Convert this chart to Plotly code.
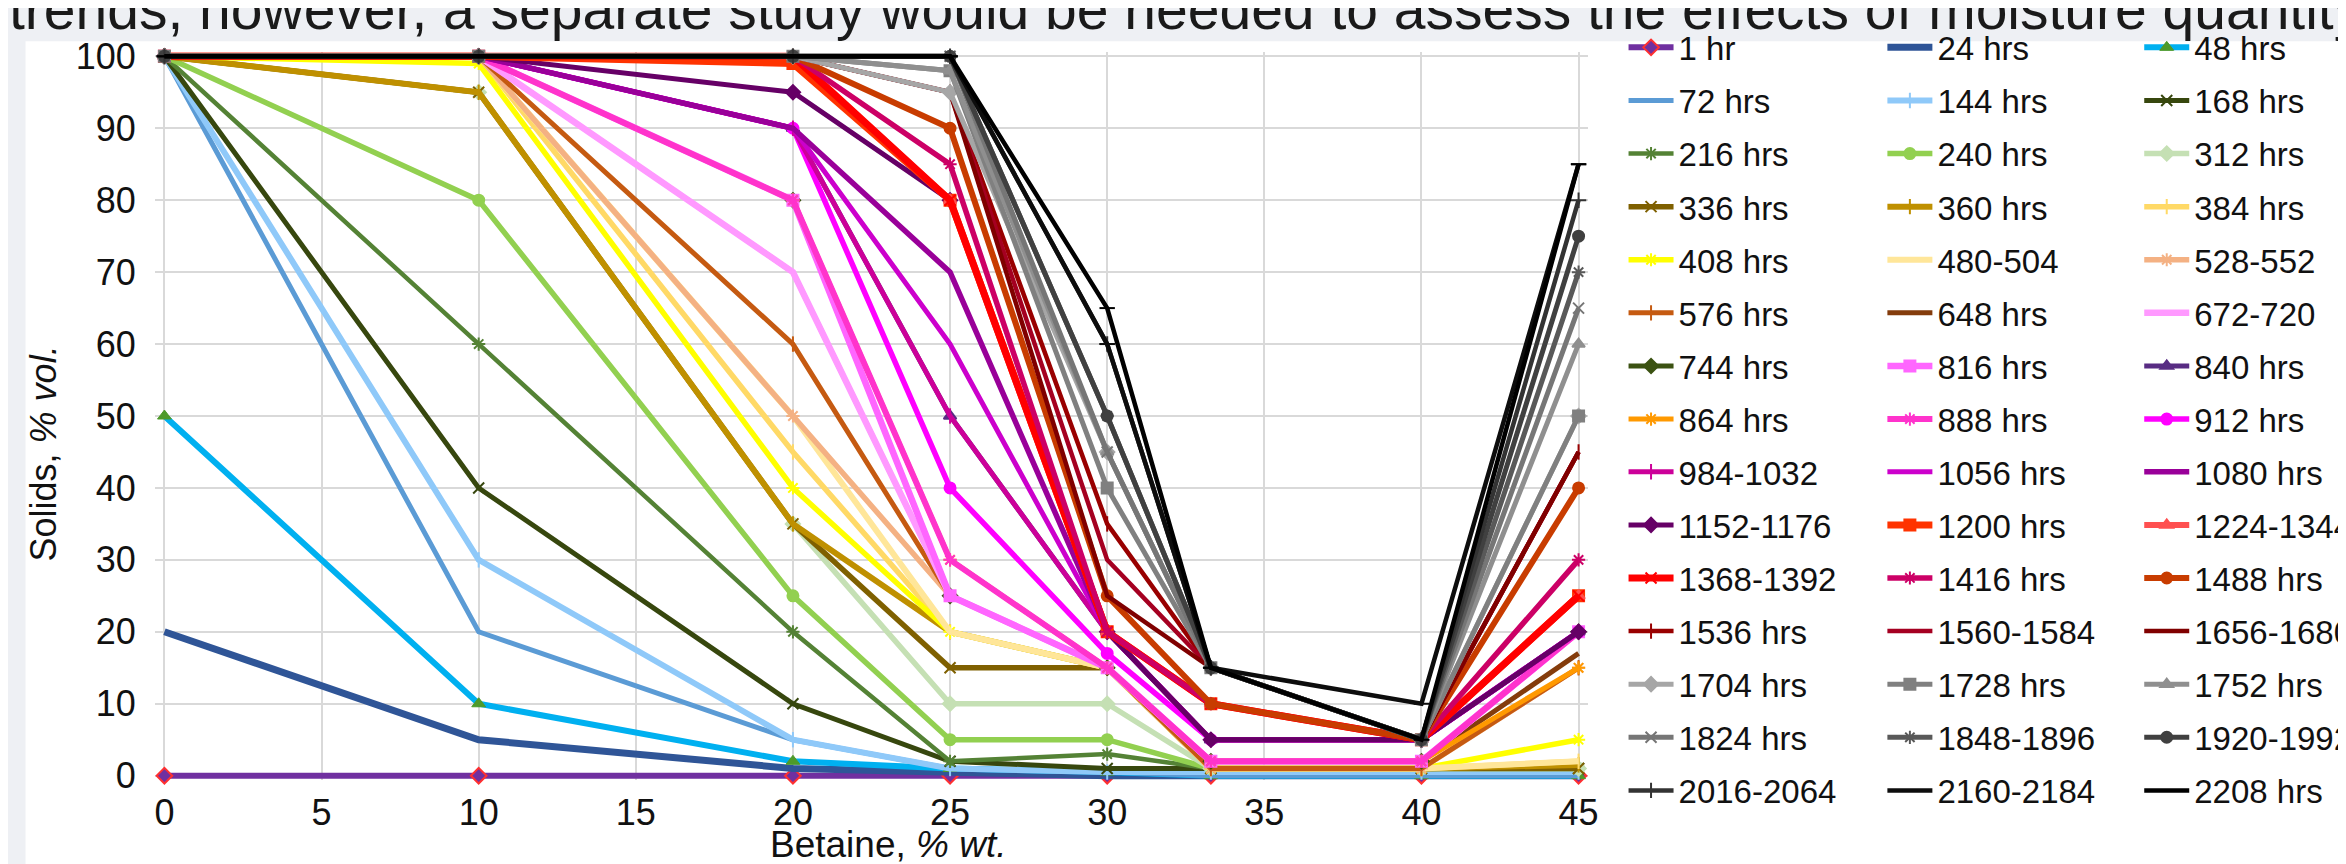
import plotly.graph_objects as go

# ---------------- data ----------------
betaine = [0, 10, 20, 25, 30, 33.3, 40, 45]
x_ticks = [0, 5, 10, 15, 20, 25, 30, 35, 40, 45]
y_ticks = [0, 10, 20, 30, 40, 50, 60, 70, 80, 90, 100]

names = ["1 hr", "24 hrs", "48 hrs", "72 hrs", "144 hrs", "168 hrs", "216 hrs", "240 hrs",
         "312 hrs", "336 hrs", "360 hrs", "384 hrs", "408 hrs", "480-504", "528-552", "576 hrs",
         "648 hrs", "672-720", "744 hrs", "816 hrs", "840 hrs", "864 hrs", "888 hrs", "912 hrs",
         "984-1032", "1056 hrs", "1080 hrs", "1152-1176", "1200 hrs", "1224-1344", "1368-1392",
         "1416 hrs", "1488 hrs", "1536 hrs", "1560-1584", "1656-1680", "1704 hrs", "1728 hrs",
         "1752 hrs", "1824 hrs", "1848-1896", "1920-1992", "2016-2064", "2160-2184", "2208 hrs"]

h1 = [0, 0, 0, 0, 0, 0, 0, 0]
h24 = [20, 5, 1, 0.5, 0, 0, 0, 0]
h48 = [50, 10, 2, 1, 0.5, 0, 0, 0]
h72 = [100, 20, 5, 1, 0.5, 0, 0, 0]
h144 = [100, 30, 5, 1, 0.5, 0.5, 0.5, 0.5]
h168 = [100, 40, 10, 2, 1, 1, 1, 1]
h216 = [100, 60, 20, 2, 3, 1, 1, 1]
h240 = [100, 80, 25, 5, 5, 1, 1, 1]
h312 = [100, 95, 35, 10, 10, 1, 1, 1]
h336 = [100, 95, 35, 15, 15, 1, 1, 1]
h360 = [100, 95, 35, 20, 15, 1, 1, 1.5]
h384 = [100, 100, 45, 20, 15, 1, 1, 2]
h408 = [100, 99, 40, 20, 15, 1, 1, 5]
h480 = [100, 100, 50, 20, 15, 1, 1, 2]
h528 = [100, 100, 50, 25, 15, 1, 1, 15]
h576 = [100, 100, 60, 25, 15, 1, 1, 15]
h648 = [100, 100, 70, 25, 15, 2, 2, 17]
h672 = [100, 100, 70, 25, 15, 2, 2, 20]
h744 = [100, 100, 80, 25, 15, 2, 2, 20]
h816 = [100, 100, 80, 25, 15, 2, 2, 20]
h840 = [100, 100, 90, 50, 20, 5, 5, 20]
h864 = [100, 100, 80, 30, 15, 2, 2, 15]
h888 = [100, 100, 80, 30, 15, 2, 2, 20]
h912 = [100, 100, 90, 40, 17, 5, 5, 20]
h984 = [100, 100, 90, 50, 20, 5, 5, 20]
h1056 = [100, 100, 90, 60, 20, 5, 5, 20]
h1080 = [100, 100, 90, 70, 20, 5, 5, 20]
h1152 = [100, 100, 95, 80, 20, 5, 5, 20]
h1200 = [100, 100, 99, 80, 20, 10, 5, 25]
h1224 = [100, 100, 100, 80, 20, 10, 5, 25]
h1368 = [100, 100, 100, 80, 20, 10, 5, 25]
h1416 = [100, 100, 100, 85, 20, 10, 5, 30]
h1488 = [100, 100, 100, 90, 25, 10, 5, 40]
h1536 = [100, 100, 100, 95, 35, 15, 5, 45]
h1560 = [100, 100, 100, 95, 30, 15, 5, 45]
h1656 = [100, 100, 100, 95, 25, 15, 5, 45]
h1704 = [100, 100, 100, 95, 45, 15, 5, 50]
h1728 = [100, 100, 100, 98, 40, 15, 5, 50]
h1752 = [100, 100, 100, 98, 45, 15, 5, 60]
h1824 = [100, 100, 100, 100, 45, 15, 5, 65]
h1848 = [100, 100, 100, 100, 50, 15, 5, 70]
h1920 = [100, 100, 100, 100, 50, 15, 5, 75]
h2016 = [100, 100, 100, 100, 60, 15, 5, 80]
h2160 = [100, 100, 100, 100, 60, 15, 10, 85]
h2208 = [100, 100, 100, 100, 65, 15, 5, 85]

values = [h1, h24, h48, h72, h144, h168, h216, h240, h312, h336, h360, h384, h408, h480,
          h528, h576, h648, h672, h744, h816, h840, h864, h888, h912, h984, h1056, h1080,
          h1152, h1200, h1224, h1368, h1416, h1488, h1536, h1560, h1656, h1704, h1728,
          h1752, h1824, h1848, h1920, h2016, h2160, h2208]

top_text = "trends, however, a separate study would be needed to assess the effects of moisture quantity"

# ---------------- styles ----------------
colors = ["#7030A0", "#2F5597", "#00B0F0", "#5B9BD5", "#8FC9F9", "#37470E", "#548235", "#92D050",
          "#C5E0B4", "#7F6000", "#BF9000", "#FFD966", "#FFFF00", "#FFE699", "#F4B183", "#C55A11",
          "#843C0C", "#FF99FF", "#3B5212", "#FF66FF", "#582C83", "#FF9900", "#FF33CC", "#FF00FF",
          "#CC0099", "#CC00CC", "#990099", "#660066", "#FF3300", "#FF5050", "#FF0000",
          "#CC0066", "#C83C00", "#990000", "#A50021", "#800000", "#A6A6A6", "#808080",
          "#8F8F8F", "#767676", "#595959", "#404040", "#333333", "#0D0D0D", "#000000"]
symbols = ["diamond", None, "triangle-up", None, "line-ns", "x-thin", "asterisk", "circle",
           "diamond", "x-thin", "line-ns", "line-ns", "asterisk", None, "asterisk", "line-ns",
           None, None, "diamond", "square", "triangle-up", "asterisk", "asterisk", "circle",
           "line-ns", None, None, "diamond", "square", "triangle-up", "x-thin",
           "asterisk", "circle", "line-ns", None, None, "diamond", "square",
           "triangle-up", "x-thin", "asterisk", "circle", "cross-thin", "line-ew", "line-ew"]
widths = [6, 7, 6, 5, 6, 5, 4.5, 5.5, 5.5, 5.5, 6, 5.5, 5.5, 6, 5.5, 5,
          5, 6.5, 5, 6.5, 5, 5, 6, 5.5, 5, 5, 5.5, 5, 7, 6, 7,
          5.5, 6, 4.5, 4.5, 4.5, 5, 5, 5, 5, 5, 5, 4.5, 4.5, 4.5]

FONT = "Liberation Sans, Arial, sans-serif"
W, H = 2346, 864
X0P, X45P, Y100P, Y0P = 156, 1571, 48, 768           # pixel positions of axis extremes
XPAD, YPAD = 0.3, 0.6                                 # small range padding so edge lines aren't clipped
ux = (X45P - X0P) / 45.0
uy = (Y0P - Y100P) / 100.0
L, R = X0P - XPAD * ux, X45P + XPAD * ux
T, B = Y100P - YPAD * uy, Y0P + YPAD * uy


def px_x(p):
    return (p - L) / (R - L)


def px_y(p):
    return (B - p) / (B - T)


LEG_FONT = 33
ROW = 53.1
item_h = 1.3 * LEG_FONT + 3
gap = ROW - item_h
col_x = [1616, 1875, 2132]
FIRST_ROW = 48
ROWS_TOP = 8

fig = go.Figure()
for i, (nm, vals) in enumerate(zip(names, values)):
    row, col = divmod(i, 3)
    half = 0 if row < ROWS_TOP else 1
    leg_idx = col + 1 + 3 * half
    leg = "legend" if leg_idx == 1 else f"legend{leg_idx}"
    sym = symbols[i]
    c = colors[i]
    mk = dict(size=11, color=c, line=dict(width=2, color=c))
    if nm == "1 hr":
        mk = dict(size=12, symbol="diamond", color="#7030A0", line=dict(width=2, color="#FF3030"))
    elif nm == "48 hrs":
        mk = dict(size=12, symbol="triangle-up", color="#4E9A2A", line=dict(width=1, color="#4E9A2A"))
    elif sym is not None:
        mk["symbol"] = sym
    fig.add_trace(go.Scatter(
        x=betaine, y=vals, name=nm,
        mode="lines+markers" if sym is not None else "lines",
        line=dict(color=c, width=widths[i]),
        marker=mk, cliponaxis=False,
        legend=leg, legendgroup=nm,
    ))

legend_common = dict(
    font=dict(family=FONT, size=LEG_FONT, color="#111111"),
    bgcolor="rgba(0,0,0,0)", borderwidth=0, orientation="v",
    traceorder="grouped", tracegroupgap=gap, itemwidth=45,
    xanchor="left", yanchor="top",
)
layout_legends = {}
for k in range(6):
    col = k % 3
    half = k // 3
    first_center = FIRST_ROW + (ROWS_TOP * ROW if half else 0)
    top = first_center - (5 + item_h / 2) - 9
    key = "legend" if k == 0 else f"legend{k + 1}"
    layout_legends[key] = dict(legend_common, x=px_x(col_x[col]), y=px_y(top))

grid = "#D9D9D9"
TICK_FONT = dict(size=36, family=FONT, color="#111111")
fig.update_layout(
    width=W, height=H,
    margin=dict(l=L, r=W - R, t=T, b=H - B, autoexpand=False),
    paper_bgcolor="#EEF0F4", plot_bgcolor="white",
    font=dict(family=FONT, color="#111111"),
    showlegend=True,
    xaxis=dict(range=[-XPAD, 45 + XPAD], tickvals=x_ticks, showgrid=True, gridcolor=grid, gridwidth=2,
               zeroline=False, showline=False,
               ticks="outside", ticklen=1, tickcolor="rgba(0,0,0,0)", tickfont=TICK_FONT),
    yaxis=dict(range=[-YPAD, 100 + YPAD], tickvals=y_ticks, showgrid=True, gridcolor=grid, gridwidth=2,
               zeroline=False, showline=False,
               ticks="outside", ticklen=11, tickcolor="rgba(0,0,0,0)", tickfont=TICK_FONT),
    shapes=[dict(type="rect", xref="paper", yref="paper", layer="below",
                 x0=px_x(17), x1=px_x(W + 5), y0=px_y(33), y1=px_y(H + 5),
                 fillcolor="white", line=dict(width=0))],
    annotations=[
        dict(text="Solids, <i>% vol.</i>", xref="paper", yref="paper", x=px_x(35), y=px_y(446),
             textangle=-90, showarrow=False, xanchor="center", yanchor="middle",
             font=dict(family=FONT, size=36, color="#111111")),
        dict(text="Betaine, <i>% wt.</i>", xref="paper", yref="paper", x=px_x(881), y=px_y(837),
             showarrow=False, xanchor="center", yanchor="middle",
             font=dict(family=FONT, size=37, color="#111111")),
        dict(text=top_text,
             xref="paper", yref="paper", x=px_x(-2), y=px_y(1), showarrow=False,
             xanchor="left", yanchor="middle",
             font=dict(family=FONT, size=57, color="#1A1A1A")),
    ],
    **layout_legends,
)

fig.write_html("out.html")
